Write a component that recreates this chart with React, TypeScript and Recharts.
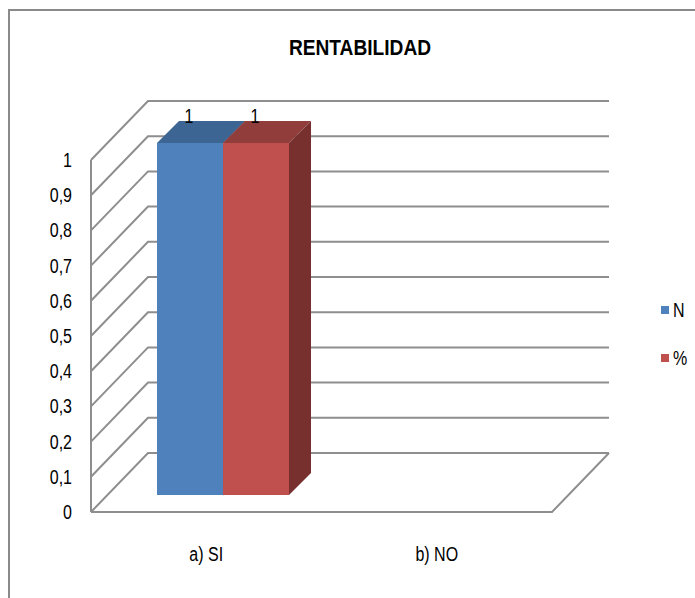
import React from 'react';
import { BarChart, Bar, XAxis, YAxis, CartesianGrid, Legend, LabelList } from 'recharts';

const categories = ['a) SI', 'b) NO'];
const seriesN = [1, 0];
const seriesPct = [1, 0];
const yTicks = [0, 0.1, 0.2, 0.3, 0.4, 0.5, 0.6, 0.7, 0.8, 0.9, 1];

const data = categories.map((c, i) => ({ name: c, N: seriesN[i], P: seriesPct[i] }));

const FONT = "'Liberation Sans', Arial, sans-serif";
const SX = 0.8; // horizontal squeeze to mimic a narrow font
const GRID = '#8e8e8e';
const DEPTH = 22;
// offsets of front and back planes relative to the bar plane
const FX = -17, FY = 17;
const BX = 40, BY = -42;

const NarrowText = ({ x, y, anchor, children }: any) => (
  <text
    transform={`translate(${x},${y}) scale(${SX},1)`}
    x={0}
    y={0}
    dy="0.35em"
    textAnchor={anchor}
    fontFamily={FONT}
    fontSize={20}
    fill="#000"
  >
    {children}
  </text>
);

const makeBar3D = (top: string, side: string) => (p: any) => {
  const { x, y, width, height, fill } = p;
  if (!height || height <= 0) return <g />;
  const d = DEPTH;
  return (
    <g>
      <polygon points={`${x},${y} ${x + d},${y - d} ${x + width + d},${y - d} ${x + width},${y}`} fill={top} />
      <polygon points={`${x + width},${y} ${x + width + d},${y - d} ${x + width + d},${y + height - d} ${x + width},${y + height}`} fill={side} />
      <rect x={x} y={y} width={width} height={height} fill={fill} />
    </g>
  );
};

const gridLine = (p: any) => {
  const { x1, y1, x2, y, height, index } = p;
  const bottom = y + height;
  const isBottom = Math.abs(y1 - bottom) < 0.5;
  const isTop = Math.abs(y1 - y) < 0.5;
  return (
    <g key={`gl-${index}`}>
      <polyline
        points={`${x1 + FX},${y1 + FY} ${x1 + BX},${y1 + BY} ${x2 + BX},${y1 + BY}`}
        fill="none" stroke={GRID} strokeWidth={2}
      />
      {isBottom && (
        <polyline
          points={`${x1 + FX},${y1 + FY} ${x2 + FX},${y1 + FY} ${x2 + BX},${y1 + BY}`}
          fill="none" stroke={GRID} strokeWidth={2}
        />
      )}
      {isTop && (
        <line x1={x1 + FX} y1={y1 + FY} x2={x1 + FX} y2={bottom + FY} stroke={GRID} strokeWidth={2} />
      )}
    </g>
  );
};

const YTick = (p: any) => {
  const { x, y, payload } = p;
  return <NarrowText x={x} y={y + FY} anchor="end">{String(payload.value).replace('.', ',')}</NarrowText>;
};

const XTick = (p: any) => {
  const { x, y, payload } = p;
  return <NarrowText x={x + FX} y={y} anchor="middle">{payload.value}</NarrowText>;
};

const topLabel = (p: any) => {
  const { x, y, width, value } = p;
  if (!value) return null;
  return <NarrowText x={x + width / 2 - 1} y={y - 27} anchor="middle">{value}</NarrowText>;
};

const renderLegend = (props: any) => (
  <div style={{ fontFamily: FONT, fontSize: 20, color: '#000' }}>
    {(props.payload || []).map((e: any, i: number) => (
      <div key={i} style={{ display: 'flex', alignItems: 'center', height: 24, marginBottom: i === 0 ? 24 : 0 }}>
        <span style={{ display: 'inline-block', width: 8, height: 8, background: e.color, marginRight: 4 }} />
        <span style={{ display: 'inline-block', transform: `scaleX(${SX})`, transformOrigin: 'left center' }}>{e.value}</span>
      </div>
    ))}
  </div>
);

export default function App() {
  return (
    <div style={{ position: 'absolute', left: 0, top: 0, width: 695, height: 598, overflow: 'hidden', background: '#fff' }}>
      <div style={{ position: 'absolute', left: 8, top: 9, width: 720, height: 620, border: '2px solid #8a8a8a', boxSizing: 'border-box' }} />
      <div style={{ position: 'absolute', left: 360, top: 34, transform: 'translateX(-50%) scaleX(0.87)', fontFamily: FONT, fontWeight: 'bold', fontSize: 22, whiteSpace: 'nowrap', lineHeight: '28px', color: '#000' }}>
        RENTABILIDAD
      </div>
      <div style={{ position: 'absolute', left: 0, top: 0 }}>
        <BarChart width={695} height={598} data={data} margin={{ top: 143, right: 126, bottom: 0, left: 0 }} barSize={66} barGap={0}>
          <CartesianGrid vertical={false} horizontal={gridLine as any} />
          <XAxis dataKey="name" height={103} axisLine={false} tickLine={false} tickSize={0} tickMargin={59} tick={<XTick />} interval={0} />
          <YAxis domain={[0, 1]} ticks={yTicks} width={108} axisLine={false} tickLine={false} tickSize={0} tickMargin={36} tick={<YTick />} interval={0} />
          <Legend layout="vertical" align="center" verticalAlign="middle" itemSorter="dataKey" content={renderLegend} wrapperStyle={{ left: 661, top: 298, width: 40 }} />
          <Bar dataKey="N" name="N" fill="#4F81BD" isAnimationActive={false} shape={makeBar3D('#3D6594', '#32537A')}>
            <LabelList dataKey="N" content={topLabel} />
          </Bar>
          <Bar dataKey="P" name="%" fill="#C0504D" isAnimationActive={false} shape={makeBar3D('#913D3B', '#77302E')}>
            <LabelList dataKey="P" content={topLabel} />
          </Bar>
        </BarChart>
      </div>
    </div>
  );
}
